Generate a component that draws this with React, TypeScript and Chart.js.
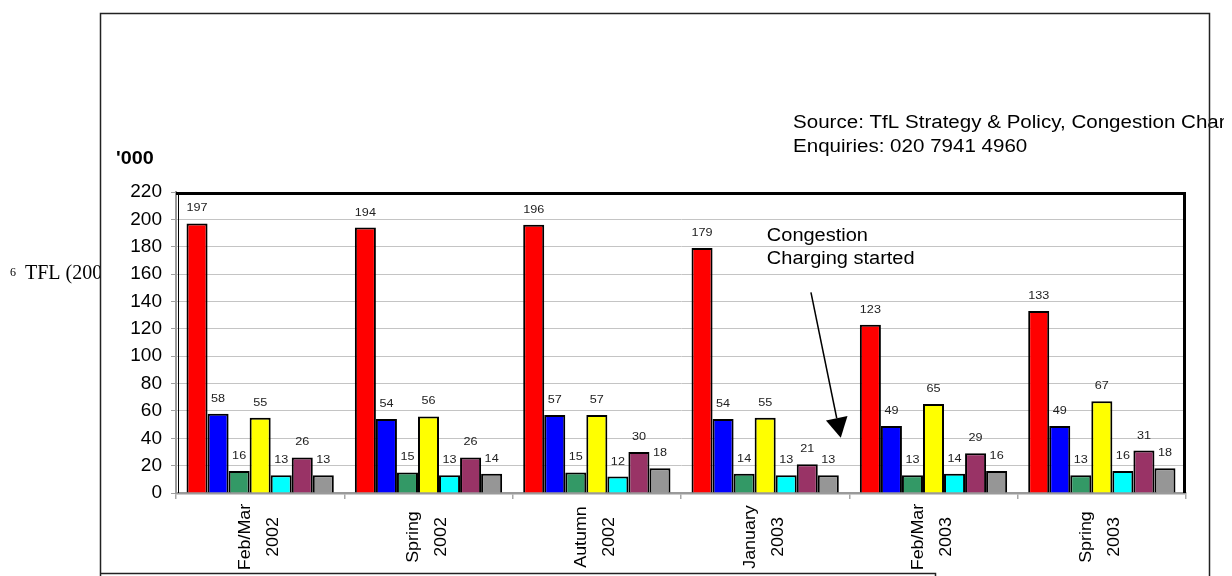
import React, { useEffect, useRef } from "react";
import { Chart, registerables } from "chart.js";

Chart.register(...registerables);

// ---------- data ----------
const CATEGORIES: string[][] = [
  ["Feb/Mar", "2002"],
  ["Spring", "2002"],
  ["Autumn", "2002"],
  ["January", "2003"],
  ["Feb/Mar", "2003"],
  ["Spring", "2003"],
];
const SERIES_NAMES = [
  "Cars & minicabs",
  "Vans",
  "Lorries & other",
  "Licensed taxis",
  "Buses & coaches",
  "Powered two-wheelers",
  "Pedal cycles",
];
const CARS = [197, 194, 196, 179, 123, 133];
const VANS = [58, 54, 57, 54, 49, 49];
const LORRIES = [16, 15, 15, 14, 13, 13];
const TAXIS = [55, 56, 57, 55, 65, 67];
const BUSES = [13, 13, 12, 13, 14, 16];
const MOTORCYCLES = [26, 26, 30, 21, 29, 31];
const CYCLES = [13, 14, 18, 13, 16, 18];
const SERIES_COLORS = ["#ff0000", "#0000ff", "#339966", "#ffff00", "#00ffff", "#993366", "#969696"];
const Y_TICKS = { min: 0, max: 220, step: 20 };

const UNIT_LABEL = "'000";
const SOURCE_LINES = [
  "Source: TfL Strategy & Policy, Congestion Charging",
  "Enquiries: 020 7941 4960",
];
const ANNOTATION_LINES = ["Congestion", "Charging started"];
// annotation anchors in data units (category index, value)
const ANNOT_TEXT_X = 3.01;
const ANNOT_TEXT_Y = [184.1, 167.2];
const ARROW_FROM = { x: 3.272, y: 146.7 };
const ARROW_TO = { x: 3.449, y: 40.3 };
const FOOTNOTE_SUP = "6";
const FOOTNOTE = "TFL (2003)";

const SANS = "'Liberation Sans', Arial, Helvetica, sans-serif";
const SERIF = "'Liberation Serif', 'Times New Roman', serif";

function stretchedText(
  ctx: CanvasRenderingContext2D,
  text: string,
  x: number,
  y: number,
  font: string,
  sx: number,
  align: CanvasTextAlign = "left",
  color = "#000"
) {
  ctx.save();
  ctx.font = font;
  ctx.fillStyle = color;
  ctx.textAlign = align;
  ctx.textBaseline = "alphabetic";
  ctx.translate(x, y);
  ctx.scale(sx, 1);
  ctx.fillText(text, 0, 0);
  ctx.restore();
}

const decorPlugin = {
  id: "decor",
  beforeDraw(chart: any) {
    const ctx: CanvasRenderingContext2D = chart.ctx;
    const W = chart.width;
    const H = chart.height;
    ctx.save();
    ctx.fillStyle = "#fff";
    ctx.fillRect(0, 0, W, H);
    // footnote, clipped by the chart frame
    ctx.save();
    ctx.beginPath();
    ctx.rect(0, 0, 100, H);
    ctx.clip();
    ctx.fillStyle = "#000";
    ctx.font = `12px ${SERIF}`;
    ctx.textBaseline = "alphabetic";
    ctx.fillText(FOOTNOTE_SUP, 10, 276);
    ctx.font = `20px ${SERIF}`;
    ctx.fillText(FOOTNOTE, 25, 279);
    ctx.restore();
    // source text (cut at the page's right margin)
    ctx.save();
    ctx.beginPath();
    ctx.rect(0, 0, 1224, H);
    ctx.clip();
    stretchedText(ctx, SOURCE_LINES[0], 793, 128, `18px ${SANS}`, 1.142);
    stretchedText(ctx, SOURCE_LINES[1], 793, 152, `18px ${SANS}`, 1.142);
    ctx.restore();
    // outer frame
    ctx.strokeStyle = "#222";
    ctx.lineWidth = 1.5;
    ctx.beginPath();
    ctx.moveTo(100.5, H + 2);
    ctx.lineTo(100.5, 13.5);
    ctx.lineTo(1209.5, 13.5);
    ctx.lineTo(1209.5, H + 2);
    ctx.stroke();
    // bottom box
    ctx.beginPath();
    ctx.moveTo(100.5, 573.5);
    ctx.lineTo(935.5, 573.5);
    ctx.lineTo(935.5, H + 2);
    ctx.stroke();
    // unit label
    stretchedText(ctx, UNIT_LABEL, 116, 164, `bold 18px ${SANS}`, 1.1);
    ctx.restore();
  },
  afterDraw(chart: any) {
    const ctx: CanvasRenderingContext2D = chart.ctx;
    const area = chart.chartArea;
    const xs = chart.scales.x;
    const ys = chart.scales.y;
    ctx.save();
    // plot area border
    ctx.strokeStyle = "#000";
    ctx.lineWidth = 1;
    ctx.beginPath();
    ctx.moveTo(178.5, area.bottom);
    ctx.lineTo(178.5, area.top);
    ctx.stroke();
    ctx.lineWidth = 3;
    ctx.beginPath();
    ctx.moveTo(area.left, area.top + 1.5);
    ctx.lineTo(area.right - 1.5, area.top + 1.5);
    ctx.lineTo(area.right - 1.5, area.bottom);
    ctx.stroke();

    // data labels
    chart.data.datasets.forEach((ds: any, di: number) => {
      const meta = chart.getDatasetMeta(di);
      meta.data.forEach((el: any, i: number) => {
        stretchedText(ctx, String(ds.data[i]), el.x, el.y - 12, `11.5px ${SANS}`, 1.1, "center", "#222");
      });
    });

    // annotation
    const ax = xs.getPixelForValue(ANNOT_TEXT_X);
    ANNOTATION_LINES.forEach((t, i) => {
      stretchedText(ctx, t, ax, ys.getPixelForValue(ANNOT_TEXT_Y[i]), `18px ${SANS}`, 1.11);
    });
    const x1 = xs.getPixelForValue(ARROW_FROM.x);
    const y1 = ys.getPixelForValue(ARROW_FROM.y);
    const x2 = xs.getPixelForValue(ARROW_TO.x);
    const y2 = ys.getPixelForValue(ARROW_TO.y);
    const ang = Math.atan2(y2 - y1, x2 - x1);
    const hl = 20;
    const hw = 11;
    const bx = x2 - hl * Math.cos(ang);
    const by = y2 - hl * Math.sin(ang);
    ctx.strokeStyle = "#000";
    ctx.lineWidth = 1.5;
    ctx.beginPath();
    ctx.moveTo(x1, y1);
    ctx.lineTo(bx, by);
    ctx.stroke();
    ctx.fillStyle = "#000";
    ctx.beginPath();
    ctx.moveTo(x2, y2);
    ctx.lineTo(bx + hw * Math.sin(ang), by - hw * Math.cos(ang));
    ctx.lineTo(bx - hw * Math.sin(ang), by + hw * Math.cos(ang));
    ctx.closePath();
    ctx.fill();

    // category labels (rotated, two lines, centred)
    ctx.save();
    ctx.beginPath();
    ctx.rect(area.left - 20, area.bottom + 2, area.right - area.left + 40, 571 - area.bottom - 2);
    ctx.clip();
    const labels = chart.data.labels as string[][];
    labels.forEach((lines, i) => {
      const cx = xs.getPixelForValue(i);
      const offs = [-10.5, 17.5];
      lines.forEach((line, li) => {
        ctx.save();
        ctx.translate(cx + offs[li], 537);
        ctx.rotate(-Math.PI / 2);
        ctx.scale(1.05, 1);
        ctx.font = `17px ${SANS}`;
        ctx.fillStyle = "#000";
        ctx.textAlign = "center";
        ctx.textBaseline = "alphabetic";
        ctx.fillText(line, 0, 0);
        ctx.restore();
      });
    });
    ctx.restore();
    ctx.restore();
  },
};

export default function App() {
  const ref = useRef<HTMLCanvasElement | null>(null);
  useEffect(() => {
    if (!ref.current) return;
    const seriesData = [CARS, VANS, LORRIES, TAXIS, BUSES, MOTORCYCLES, CYCLES];
    const chart = new Chart(ref.current, {
      type: "bar",
      data: {
        labels: CATEGORIES as any,
        datasets: seriesData.map((d, i) => ({
          label: SERIES_NAMES[i],
          data: d,
          backgroundColor: SERIES_COLORS[i],
          borderColor: "#000",
          borderWidth: 2,
          categoryPercentage: 0.875,
          barPercentage: 1,
        })),
      },
      options: {
        animation: false,
        responsive: false,
        maintainAspectRatio: false,
        devicePixelRatio: 1,
        layout: { padding: { left: 0, right: 46, top: 192, bottom: 0 } },
        plugins: { legend: { display: false }, tooltip: { enabled: false }, title: { display: false } },
        scales: {
          x: {
            type: "category",
            offset: true,
            grid: {
              display: true,
              offset: true,
              drawOnChartArea: false,
              drawTicks: true,
              tickLength: 6,
              tickColor: "#a8a8a8",
              lineWidth: 1.5,
            },
            border: { display: true, color: "#9a9a9a", width: 2.5 },
            ticks: { display: false },
            afterFit: (s: any) => {
              s.height = 83;
            },
          },
          y: {
            min: Y_TICKS.min,
            max: Y_TICKS.max,
            ticks: {
              stepSize: Y_TICKS.step,
              color: "#000",
              font: { family: SANS, size: 19 },
              padding: 9,
            },
            grid: { color: "#c4c4c4", lineWidth: 1, tickLength: 5, tickColor: "#a0a0a0" },
            border: { display: true, color: "#9a9a9a", width: 2 },
            afterFit: (s: any) => {
              s.width = 176;
            },
          },
        },
      } as any,
      plugins: [decorPlugin],
    });
    return () => chart.destroy();
  }, []);
  return (
    <div style={{ position: "fixed", left: 0, top: 0, width: 1232, height: 576, background: "#fff" }}>
      <canvas ref={ref} width={1232} height={576} style={{ display: "block", width: 1232, height: 576 }} />
    </div>
  );
}
